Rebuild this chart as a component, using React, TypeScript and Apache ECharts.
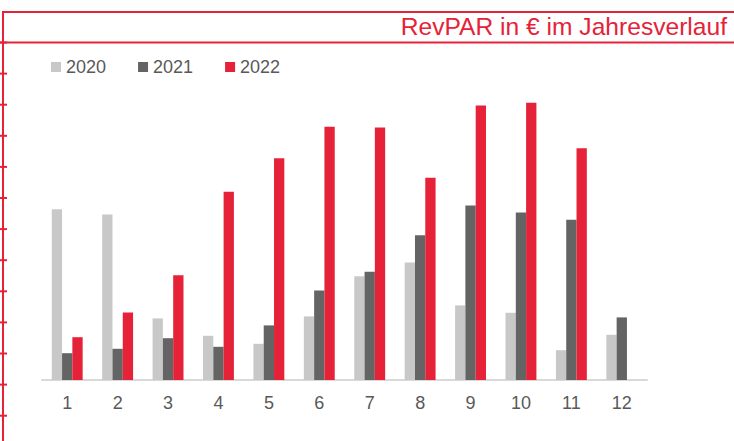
import React, { useEffect, useRef } from "react";
import * as echarts from "echarts";

const months = ["1", "2", "3", "4", "5", "6", "7", "8", "9", "10", "11", "12"];
const rev2020 = [85.4, 82.8, 30.8, 22.1, 18.1, 31.8, 51.9, 58.8, 37.3, 33.6, 14.9, 22.6];
const rev2021 = [13.4, 15.6, 20.9, 16.6, 27.3, 44.8, 54.1, 72.4, 87.3, 83.8, 80.1, 31.3];
const rev2022 = [21.4, 33.8, 52.4, 94.1, 110.9, 126.6, 126.3, 101.1, 137.3, 138.6, 115.9, null];
const titleText = "RevPAR in € im Jahresverlauf";

const RED = "#e52238";
const TEXT = "#595959";
const FONT = "Liberation Sans, Arial, sans-serif";

export default function App() {
  const ref = useRef<HTMLDivElement>(null);
  useEffect(() => {
    if (!ref.current) return;
    const chart = echarts.init(ref.current, undefined, { renderer: "svg" });
    const ticks = Array.from({ length: 13 }, (_, k) => ({
      type: "line",
      shape: { x1: 0, y1: 42.5 + 31.1 * k, x2: 7, y2: 42.5 + 31.1 * k },
      style: { stroke: RED, lineWidth: 2 },
      silent: true,
    }));
    chart.setOption({
      animation: false,
      backgroundColor: "#ffffff",
      textStyle: { fontFamily: FONT },
      title: {
        text: titleText,
        right: 2,
        top: 9,
        textStyle: { color: RED, fontSize: 24.6, fontWeight: "normal", fontFamily: FONT },
      },
      legend: {
        left: 46,
        top: 53,
        itemWidth: 10,
        itemHeight: 10,
        itemGap: 32,
        icon: "rect",
        textStyle: { color: TEXT, fontSize: 18, fontFamily: FONT },
        data: ["2020", "2021", "2022"],
      },
      grid: { left: 42, right: 87, top: 80, bottom: 61 },
      xAxis: {
        type: "category",
        data: months,
        axisLine: { lineStyle: { color: "#d9d9d9", width: 2 } },
        axisTick: { show: false },
        axisLabel: { color: TEXT, fontSize: 18, margin: 14, fontFamily: FONT },
      },
      yAxis: {
        type: "value",
        min: 0,
        max: 150,
        show: false,
        splitLine: { show: false },
      },
      series: [
        { name: "2020", type: "bar", data: rev2020, barWidth: 10.3, barGap: "0%", itemStyle: { color: "#c8c8c8" } },
        { name: "2021", type: "bar", data: rev2021, barWidth: 10.3, barGap: "0%", itemStyle: { color: "#646464" } },
        { name: "2022", type: "bar", data: rev2022, barWidth: 10.3, barGap: "0%", itemStyle: { color: RED } },
      ],
      graphic: [
        { type: "line", shape: { x1: 2, y1: 12, x2: 734, y2: 12 }, style: { stroke: RED, lineWidth: 2 }, silent: true },
        { type: "line", shape: { x1: 0, y1: 42.5, x2: 734, y2: 42.5 }, style: { stroke: RED, lineWidth: 2 }, silent: true },
        { type: "line", shape: { x1: 3, y1: 11, x2: 3, y2: 441 }, style: { stroke: RED, lineWidth: 2 }, silent: true },
        ...ticks,
      ],
    });
    return () => chart.dispose();
  }, []);
  return (
    <div
      ref={ref}
      style={{ position: "fixed", left: 0, top: 0, width: 734, height: 441 }}
    />
  );
}
